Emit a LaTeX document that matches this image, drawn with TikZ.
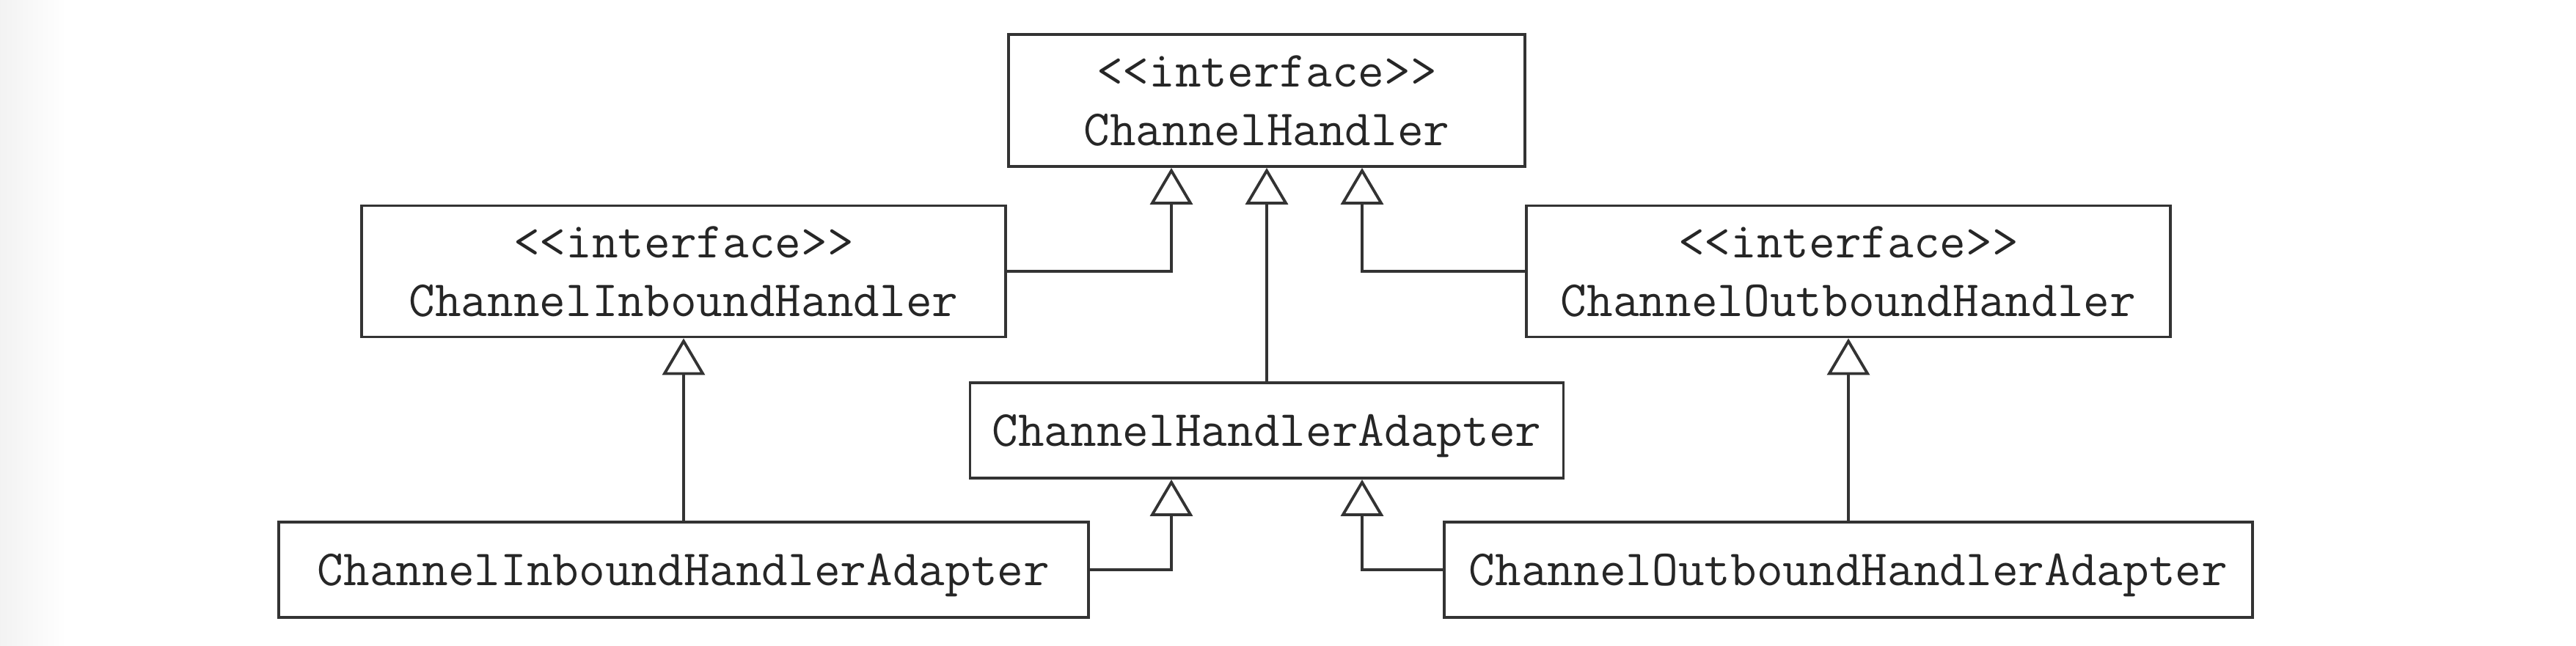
\documentclass[tikz,border=0pt]{standalone}
\usetikzlibrary{arrows.meta, positioning, calc}

\tikzset{
	cls/.style={draw=black!80, line width=1.1pt, inner sep=0pt, align=center, text depth=0pt,
		text=black!85, font=\ttfamily\fontsize{19.7}{22.8}\selectfont},
	inh/.style={draw=black!80, line width=1.1pt,
		-{Triangle[open, length=0.5cm, width=0.58cm]}}
}

\begin{document}
\begin{tikzpicture}
		\useasboundingbox (0,0) rectangle (35.12,8.8);
		\shade[left color=black!5, right color=white] (0,0) rectangle (0.9,8.8);
		% interfaces
		\node[cls, minimum width=7.04cm, minimum height=1.8cm] (CH) at (17.27,7.43) {<{}<interface>{}>\\ChannelHandler};
		\node[cls, minimum width=8.78cm, minimum height=1.79cm] (IH) at (9.32,5.1) {<{}<interface>{}>\\ChannelInboundHandler};
		\node[cls, minimum width=8.78cm, minimum height=1.79cm] (OH) at (25.2,5.1) {<{}<interface>{}>\\ChannelOutboundHandler};
		% adapters
		\node[cls, minimum width=8.09cm, minimum height=1.3cm] (AD) at (17.27,2.93) {ChannelHandlerAdapter};
		\node[cls, minimum width=11.04cm, minimum height=1.3cm] (IA) at (9.32,1.03) {ChannelInboundHandlerAdapter};
		\node[cls, minimum width=11.02cm, minimum height=1.3cm] (OA) at (25.2,1.03) {ChannelOutboundHandlerAdapter};
		\coordinate (chl) at ($(CH.south)+(-1.3,0)$);
		\coordinate (chr) at ($(CH.south)+(1.3,0)$);
		\coordinate (adl) at ($(AD.south)+(-1.3,0)$);
		\coordinate (adr) at ($(AD.south)+(1.3,0)$);
		\draw[inh] (IH.east) -| (chl); \draw[inh] (AD.north) -- (CH.south); \draw[inh] (OH.west) -| (chr);
		\draw[inh] (IA.north) -- (IH.south); \draw[inh] (OA.north) -- (OH.south);
		\draw[inh] (IA.east) -| (adl); \draw[inh] (OA.west) -| (adr);
	\end{tikzpicture}
\end{document}
